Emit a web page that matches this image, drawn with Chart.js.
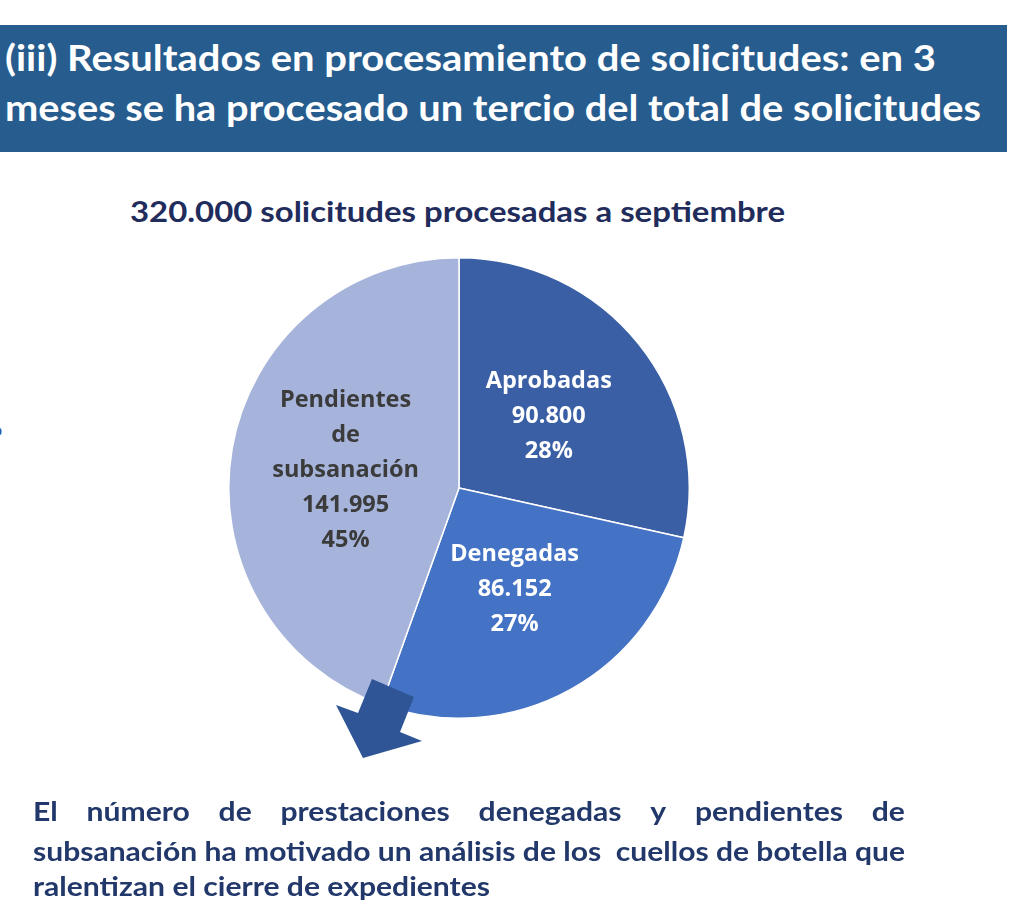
<!DOCTYPE html>
<html>
<head>
<meta charset="utf-8">
<script src="https://cdn.jsdelivr.net/npm/chart.js@4.4.0/dist/chart.umd.min.js"></script>
<style>
  html,body{margin:0;padding:0;background:#fff;width:1024px;height:921px;overflow:hidden;}
  body{position:relative;font-family:Lato,"Open Sans",sans-serif;}
  .banner{position:absolute;left:0;top:25px;width:1007px;height:127px;background:#265C8E;}
  .fit{position:absolute;white-space:nowrap;display:inline-block;transform-origin:0 0;font-weight:700;line-height:1;}
  .h{color:#fff;font-size:37px;}
  .sub{color:#1F2C5C;font-size:29px;}
  .bot{color:#22386A;font-size:26.5px;}
  .just{position:absolute;display:flex;justify-content:space-between;transform-origin:0 0;font-weight:700;line-height:1;white-space:nowrap;}
  #wrap{position:absolute;left:228px;top:257px;width:462px;height:462px;}
  svg{position:absolute;left:0;top:0;}
</style>
</head>
<body>
<div class="banner"></div>
<div class="fit h" id="h1" style="left:5px;top:37.5px;">(iii) Resultados en procesamiento de solicitudes: en 3</div>
<div class="fit h" id="h2" style="left:5px;top:87.5px;">meses se ha procesado un tercio del total de solicitudes</div>
<div class="fit sub" id="sub" style="left:130px;top:196px;">320.000 solicitudes procesadas a septiembre</div>
<div class="fit" id="edge" style="left:-8px;top:420px;font-size:18px;color:#2F5597;font-weight:400;">o</div>

<div id="wrap"><canvas id="c"></canvas></div>

<svg width="1024" height="921" viewBox="0 0 1024 921">
  <polygon points="372,679 414,697 400,732 422,741 363,758 336,705 358,713" fill="#2F5597"/>
</svg>

<div class="just bot" id="b1" style="left:33px;top:797.5px;"></div>
<div class="fit bot" id="b2" style="left:33px;top:837.5px;">subsanación ha motivado un análisis de los&nbsp; cuellos de botella que</div>
<div class="fit bot" id="b3" style="left:33px;top:872.5px;">ralentizan el cierre de expedientes</div>

<script>
// ---- data ----
const categories = ["Aprobadas", "Denegadas", "Pendientes de subsanación"];
const values = [90800, 86152, 141995];
const valueLabels = ["90.800", "86.152", "141.995"];
const percentLabels = ["28%", "27%", "45%"];
const nameLines = [["Aprobadas"], ["Denegadas"], ["Pendientes", "de", "subsanación"]];

// ---- style ----
const sliceColors = ["#3A5FA5", "#4472C4", "#A6B4DB"];
const labelColors = ["#FFFFFF", "#FFFFFF", "#3B3B3B"];
const labelShiftY = [0, 1, 2];

function fit(el, target){
  el.style.transform = 'none';
  const w = el.getBoundingClientRect().width;
  el.style.transform = 'scaleX(' + (target / w) + ')';
  return target / w;
}

const labelPlugin = {
  id: 'sliceLabels',
  afterDatasetsDraw(chart){
    const ctx = chart.ctx;
    const meta = chart.getDatasetMeta(0);
    ctx.save();
    ctx.font = '700 23.5px "Open Sans", sans-serif';
    ctx.textAlign = 'center';
    ctx.textBaseline = 'middle';
    meta.data.forEach((arc, i) => {
      const p = arc.tooltipPosition();
      const lines = nameLines[i].concat([valueLabels[i], percentLabels[i]]);
      const lh = 35;
      const y0 = p.y + labelShiftY[i] - (lines.length - 1) * lh / 2;
      ctx.fillStyle = labelColors[i];
      lines.forEach((t, k) => ctx.fillText(t, p.x, y0 + k * lh));
    });
    ctx.restore();
  }
};

new Chart(document.getElementById('c'), {
  type: 'pie',
  data: {
    labels: categories,
    datasets: [{
      data: values,
      backgroundColor: sliceColors,
      borderColor: '#FFFFFF',
      borderWidth: 1.5
    }]
  },
  options: {
    responsive: true,
    maintainAspectRatio: false,
    animation: false,
    layout: { padding: 0 },
    plugins: { legend: { display: false }, tooltip: { enabled: false } }
  },
  plugins: [labelPlugin]
});

// text fitting
document.fonts.ready.then(() => {
  fit(document.getElementById('h1'), 931);
  fit(document.getElementById('h2'), 976);
  fit(document.getElementById('sub'), 655);
  const s = fit(document.getElementById('b3'), 457);
  fit(document.getElementById('b2'), 872);
  const b1 = document.getElementById('b1');
  "El número de prestaciones denegadas y pendientes de".split(' ').forEach(w => {
    const sp = document.createElement('span'); sp.textContent = w; b1.appendChild(sp);
  });
  b1.style.width = (872 / s) + 'px';
  b1.style.transform = 'scaleX(' + s + ')';
});
</script>
</body>
</html>
